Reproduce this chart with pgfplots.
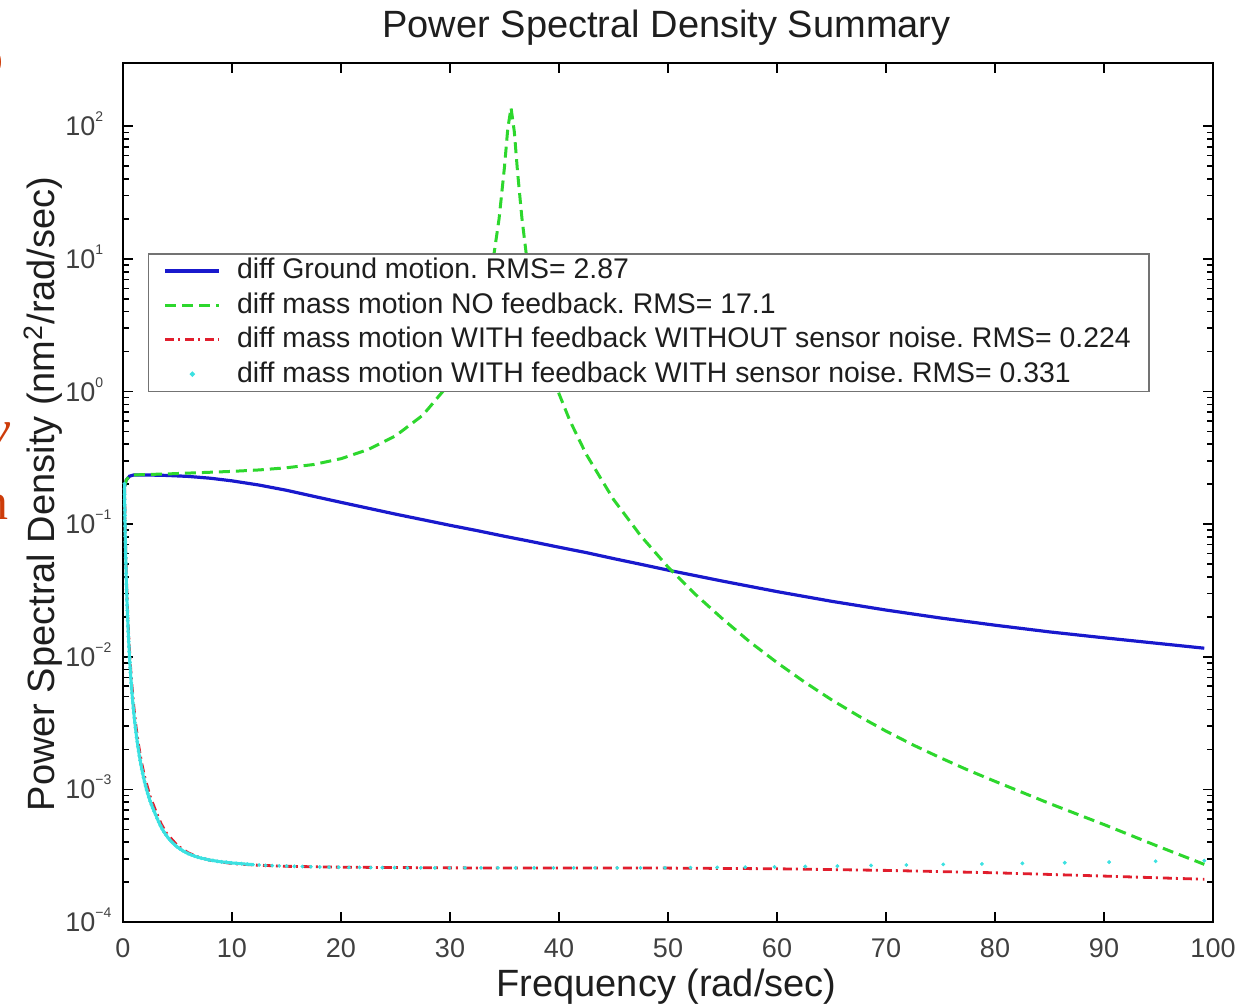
\documentclass[border=0pt]{standalone}
\usepackage{fontspec}
\setmainfont{Liberation Sans}
\newfontfamily\slidefont{Liberation Serif}
\usepackage{pgfplots}
\usepackage{pgfplotstable}
\pgfplotsset{compat=1.18}
\frenchspacing

\definecolor{psdblue}{RGB}{25,25,205}
\definecolor{psdgreen}{RGB}{45,215,45}
\definecolor{psdred}{RGB}{225,30,45}
\definecolor{psdcyan}{RGB}{60,225,225}
\definecolor{slideorange}{RGB}{205,60,10}
\definecolor{txt}{RGB}{30,30,30}

\newcommand{\dec}[1]{10\raisebox{7pt}{\fontsize{7}{7}\selectfont #1}}

% cyan series: diff mass motion WITH feedback WITH sensor noise (log spaced samples)
\pgfplotstableread{
x y
0.1308 0.2020
0.1369 0.1843
0.1434 0.1681
0.1502 0.1533
0.1572 0.1399
0.1646 0.1276
0.1724 0.1164
0.1805 0.1062
0.1890 0.0968
0.1979 0.0883
0.2073 0.0806
0.2170 0.0735
0.2273 0.0671
0.2380 0.0612
0.2492 0.0558
0.2609 0.0509
0.2732 0.0465
0.2861 0.0424
0.2996 0.0387
0.3137 0.0353
0.3285 0.0322
0.3440 0.0294
0.3602 0.0269
0.3772 0.0245
0.3949 0.0224
0.4135 0.0204
0.4330 0.0187
0.4534 0.0170
0.4748 0.0156
0.4972 0.0142
0.5206 0.0130
0.5451 0.0119
0.5708 0.0109
0.5977 0.00992
0.6259 0.00907
0.6554 0.00829
0.6863 0.00758
0.7186 0.00694
0.7525 0.00635
0.7880 0.00582
0.8251 0.00533
0.8640 0.00488
0.9047 0.00448
0.9474 0.00410
0.992 0.00377
1.0387 0.00346
1.0877 0.00318
1.1390 0.00292
1.1927 0.00269
1.2488 0.00247
1.3078 0.00228
1.3694 0.00210
1.4338 0.00194
1.5015 0.00179
1.5722 0.001656
1.6463 0.001533
1.7239 0.001421
1.8051 0.001319
1.8903 0.001226
1.9793 0.001141
2.0726 0.001063
2.1703 0.000992
2.2726 0.000928
2.3796 0.000869
2.4918 0.000816
2.6093 0.000767
2.7322 0.000722
2.8609 0.000682
2.9958 0.000644
3.1370 0.000603
3.2848 0.000566
3.4397 0.000532
3.6018 0.000503
3.7715 0.000476
3.9493 0.000453
4.1354 0.000432
4.3303 0.000413
4.5343 0.000397
4.7480 0.000382
4.9718 0.000368
5.2061 0.000357
5.4514 0.000346
5.7084 0.000337
5.9774 0.000328
6.2591 0.000321
6.5540 0.000314
6.8630 0.000308
7.1864 0.000303
7.5251 0.000299
7.8798 0.000294
8.2511 0.000291
8.6399 0.000287
9.0471 0.000284
9.4735 0.000282
9.920 0.000279
10.387 0.000277
10.877 0.000275
11.390 0.000273
11.927 0.000271
12.488 0.000269
13.078 0.000267
13.694 0.000266
14.338 0.000265
15.015 0.000264
15.722 0.000263
16.463 0.000262
17.239 0.000261
18.051 0.000260
18.903 0.000259
19.793 0.000259
20.726 0.000258
21.703 0.000258
22.726 0.000257
23.796 0.000257
24.918 0.000257
26.093 0.000256
27.322 0.000256
28.609 0.000256
29.958 0.000256
31.370 0.000256
32.848 0.000256
34.397 0.000256
36.018 0.000256
37.715 0.000256
39.493 0.000256
41.354 0.000256
43.303 0.000256
45.343 0.000256
47.480 0.000256
49.718 0.000256
52.061 0.000257
54.514 0.000258
57.084 0.000259
59.774 0.000260
62.591 0.000262
65.540 0.000264
68.630 0.000267
71.864 0.000269
75.251 0.000272
78.798 0.000274
82.511 0.000277
86.399 0.000280
90.471 0.000283
94.735 0.000287
99.200 0.000290
}\cyandata

\begin{document}
\begin{tikzpicture}
\begin{axis}[
    at={(0,0)}, anchor=south west,
    scale only axis,
    width=545pt, height=429.5pt,
    xmin=0, xmax=100,
    ymode=log, ymin=1e-4, ymax=300,
    xtick={0,10,...,100},
    ytick={1e-4,1e-3,1e-2,1e-1,1,10,100},
    yticklabels={\dec{−4},\dec{−3},\dec{−2},\dec{−1},\dec{0},\dec{1},\dec{2}},
    /pgf/number format/assume math mode=true,
    tick align=inside,
    major tick length=5pt, minor tick length=3pt,
    tick style={black, line width=0.8pt},
    axis line style={black, line width=1.2pt},
    xticklabel style={font=\fontsize{13.5}{16}\selectfont, text=txt!85, anchor=base, yshift=-17.5pt},
    yticklabel style={font=\fontsize{13.5}{16}\selectfont, text=txt!85, anchor=base west, inner sep=0pt, xshift=-29pt, yshift=-4.8pt},
    legend image code/.code={\draw[#1] (0pt,0pt) -- (27pt,0pt);},
    legend cell align=left,
    legend style={at={(0.0229,0.7788)}, anchor=north west,
        draw=black!55, line width=0.75pt, fill=white,
        inner xsep=7.5pt, inner ysep=0pt,
        font=\fontsize{14.2}{16}\selectfont, text=txt,
        nodes={inner sep=1.6pt, text height=11pt, text depth=3pt},
        /tikz/every odd column/.append style={column sep=6.5pt}},
]

\addplot[psdblue, line width=1.6pt] coordinates {
(0.13,0.19)(0.3,0.215)(0.6,0.23)(1,0.235)(2,0.235)(4,0.233)(6,0.229)(8,0.222)
(10,0.212)(12.5,0.197)(15,0.180)(17.5,0.162)(20,0.146)(22.5,0.1318)(25,0.119)
(27.5,0.108)(30,0.098)(32.5,0.0893)(35,0.081)(37.5,0.0738)(40,0.067)(42.5,0.0610)
(45,0.055)(47.5,0.0498)(50,0.045)(55,0.0372)(60,0.031)(65,0.0262)(70,0.0225)
(75,0.0196)(80,0.0173)(85,0.0154)(90,0.0139)(95,0.0126)(99.2,0.0116)
};
\addlegendentry{diff Ground motion. RMS= 2.87}

\addplot[psdgreen, line width=1.5pt, dash pattern=on 5.5pt off 3pt] coordinates {
(0.13,0.19)(0.3,0.215)(0.6,0.23)(1,0.235)(2,0.2365)(4,0.239)(6,0.2426)(8,0.2462)
(10,0.2499)(12.5,0.2563)(15,0.2661)(17.5,0.2816)(20,0.3116)(22.5,0.3652)(25,0.4627)
(27.5,0.6626)(30,1.1605)(31,1.603)(32,2.436)(33,4.31)(34,10.4)(34.5,20)(35,49.5)
(35.3,96)(35.6,138)(35.9,91)(36.2,45)(36.6,20.2)(37,10.8)(37.5,5.9)(38,3.63)
(39,1.715)(40,0.962)(41,0.602)(42.5,0.336)(45,0.1535)(47.5,0.0816)(50,0.0475)
(52.5,0.0296)(55,0.01933)(57.5,0.01296)(60,0.00904)(62.5,0.00647)(65,0.00474)
(67.5,0.00357)(70,0.00275)(72.5,0.00216)(75,0.00173)(77.5,0.00140)(80,0.00115)
(85,0.000783)(90,0.000543)(95,0.000371)(99.2,0.000272)
};
\addlegendentry{diff mass motion NO feedback. RMS= 17.1}

\addplot[psdred, line width=1.4pt, dash pattern=on 4.5pt off 2pt on 1pt off 2.5pt] coordinates {
(0.14,0.199)(0.16,0.1526)(0.18,0.1206)(0.2,0.0978)(0.25,0.0627)(0.3,0.0436)
(0.35,0.0321)(0.4,0.0246)(0.5,0.0159)(0.6,0.01109)(0.7,0.00821)(0.8,0.00635)
(1,0.00416)(1.2,0.00296)(1.4,0.00224)(1.7,0.00160)(2,0.00123)(2.5,0.00088)
(3,0.00069)(3.5,0.00055)(4,0.000466)(5,0.000376)(6,0.000332)(7,0.000307)
(8,0.000292)(10,0.000276)(12,0.000269)(15,0.000263)(20,0.000259)(30,0.000256)
(40,0.000255)(50,0.000255)(60,0.000252)(70,0.000245)(80,0.000235)(90,0.000222)
(99.2,0.000210)
};
\addlegendentry{diff mass motion WITH feedback WITHOUT sensor noise. RMS= 0.224}

\addplot[psdcyan, line width=1.5pt, restrict x to domain=0:12, forget plot] table[x=x, y=y] {\cyandata};
\addplot[psdcyan, only marks, mark=*, mark size=0.75pt,
    legend image code/.code={\fill[psdcyan] (13.5pt,0pt) circle (0.9pt);}] table[x=x, y=y] {\cyandata};
\addlegendentry{diff mass motion WITH feedback WITH sensor noise. RMS= 0.331}

\end{axis}

\node[anchor=base, font=\fontsize{19}{22}\selectfont, text=txt] at (271.75pt,442pt) {Power Spectral Density Summary};
\node[anchor=base, font=\fontsize{19}{22}\selectfont, text=txt] at (271.75pt,-37pt) {Frequency (rad/sec)};
\node[anchor=base, rotate=90, font=\fontsize{19}{22}\selectfont, text=txt] at (-34pt,214pt) {Power Spectral Density (nm\textsuperscript{2}/rad/sec)};

% cut-off slide text at the left edge
\node[anchor=base east, inner sep=0pt, text=slideorange, font=\slidefont\fontsize{26}{30}\selectfont] at (-59.5pt,423.5pt) {o};
\node[anchor=base east, inner sep=0pt, text=slideorange, font=\slidefont\itshape\fontsize{26}{30}\selectfont] at (-56pt,237.5pt) {v};
\node[anchor=base east, inner sep=0pt, text=slideorange, font=\slidefont\fontsize{26}{30}\selectfont] at (-57pt,201pt) {n};

\pgfresetboundingbox
\path (-61.5pt,-42pt) rectangle (564pt,461pt);
\end{tikzpicture}
\end{document}
